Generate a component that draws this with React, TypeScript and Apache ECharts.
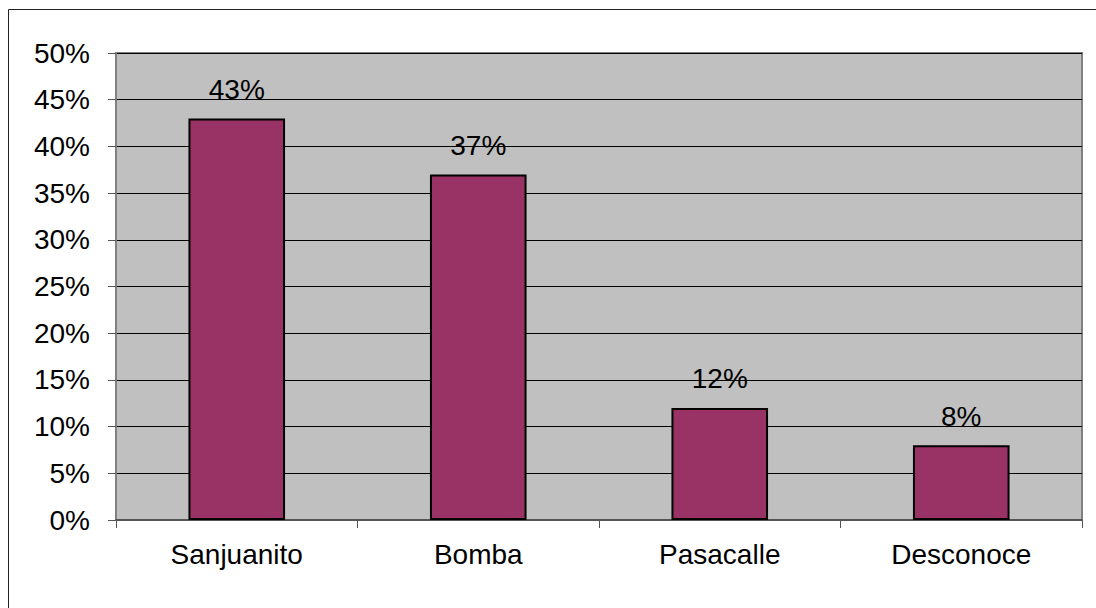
import React, { useEffect, useRef } from "react";
import * as echarts from "echarts";

const categories = ["Sanjuanito", "Bomba", "Pasacalle", "Desconoce"];
const values = [43, 37, 12, 8];

export default function App() {
  const ref = useRef<HTMLDivElement>(null);
  useEffect(() => {
    document.body.style.margin = "0";
    const chart = echarts.init(ref.current!, null, { renderer: "svg" });
    const font = "'Liberation Sans', Arial, sans-serif";
    chart.setOption({
      animation: false,
      backgroundColor: "#ffffff",
      graphic: [
        {
          type: "rect",
          shape: { x: 8.5, y: 9.5, width: 1100, height: 620 },
          style: { fill: "none", stroke: "#222222", lineWidth: 1 },
          silent: true,
        },
      ],
      grid: {
        left: 116,
        top: 53,
        right: 14,
        bottom: 88,
        show: true,
        backgroundColor: "#C0C0C0",
        borderColor: "#808080",
        borderWidth: 2,
      },
      xAxis: {
        type: "category",
        data: categories,
        axisLine: { lineStyle: { color: "#555555", width: 2 } },
        axisTick: { show: true, length: 8, lineStyle: { color: "#555555" } },
        axisLabel: { color: "#000", fontSize: 28, fontFamily: font, margin: 20 },
      },
      yAxis: {
        type: "value",
        min: 0,
        max: 50,
        interval: 5,
        axisLine: { show: true, lineStyle: { color: "#808080", width: 2 } },
        axisTick: { show: true, length: 8, lineStyle: { color: "#555555" } },
        axisLabel: {
          color: "#000",
          fontSize: 28,
          fontFamily: font,
          margin: 26,
          formatter: (v: number) => v + "%",
        },
        splitLine: { show: true, lineStyle: { color: "#000000", width: 1 } },
      },
      series: [
        {
          type: "bar",
          data: values,
          barWidth: "40%",
          itemStyle: { color: "#993366", borderColor: "#000000", borderWidth: 2 },
          label: {
            show: true,
            position: "top",
            distance: 15,
            color: "#000",
            fontSize: 28,
            fontFamily: font,
            formatter: (p: any) => p.value + "%",
          },
        },
      ],
    });
    return () => chart.dispose();
  }, []);
  return (
    <div
      ref={ref}
      style={{ position: "fixed", left: 0, top: 0, width: 1096, height: 608 }}
    />
  );
}
